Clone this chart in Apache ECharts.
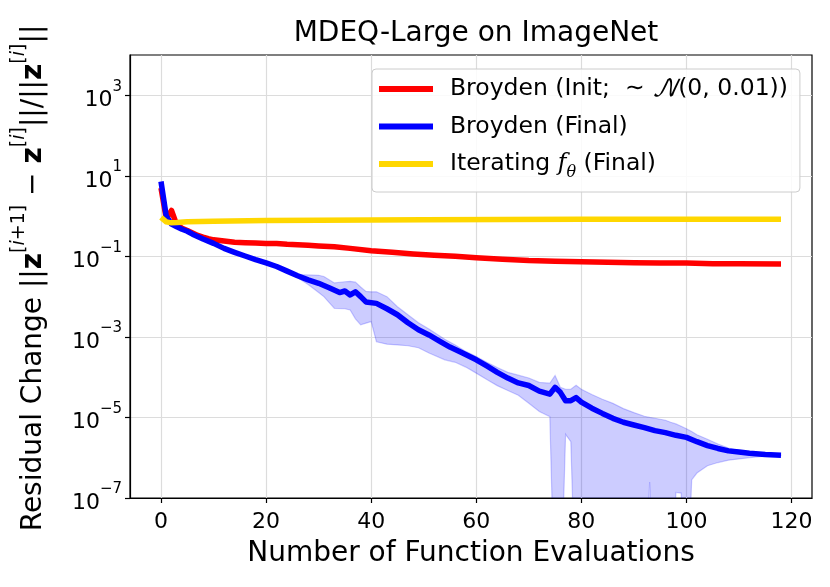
<!DOCTYPE html>
<html>
<head>
<meta charset="utf-8">
<script src="https://cdn.jsdelivr.net/npm/echarts@6/dist/echarts.min.js"></script>
<style>
html,body{margin:0;padding:0;background:#fff;}
#chart{width:830px;height:587px;}
</style>
</head>
<body>
<div id="chart"></div>
<script>
// ---- data ----
const xTicks = [0, 20, 40, 60, 80, 100, 120];
const yTicks = [1e-7, 1e-5, 1e-3, 1e-1, 1e1, 1e3];

const seriesNames = ['Broyden (Init; ~N(0, 0.01))', 'Broyden (Final)', 'Iterating f_θ (Final)'];

const redX = [0,1,2,3,4,5,6,7,8,9,10,12,14,16,18,20,22,24,26,28,30,33,36,40,44,48,52,56,60,65,70,75,80,85,90,95,100,105,110,118];
const redY = [5.0,0.87,1.38,0.60,0.50,0.44,0.38,0.33,0.30,0.275,0.257,0.24,0.224,0.219,0.214,0.209,0.209,0.20,0.195,0.19,0.182,0.174,0.158,0.138,0.126,0.115,0.107,0.10,0.093,0.085,0.079,0.076,0.074,0.071,0.069,0.068,0.068,0.066,0.066,0.065];

const blueX = [0,1,2,3,4,5,6,8,10,12,14,16,18,20,22,24,26,28,30,32,34,35,36,37,38,39,41,43,45,47,49,51,53,55,57,60,62,64,66,68,70,72,74,75,76,77,78,79,80,82,84,86,88,90,92,94,96,98,100,102,104,106,108,110,112,115,118];
const blueY = [7.24,1.0,0.63,0.54,0.47,0.42,0.355,0.27,0.21,0.158,0.126,0.102,0.083,0.069,0.056,0.043,0.033,0.026,0.0214,0.0166,0.0126,0.0138,0.011,0.0132,0.010,0.0074,0.0068,0.0050,0.00355,0.00224,0.00151,0.00112,7.9e-4,5.6e-4,4.2e-4,2.7e-4,1.9e-4,1.32e-4,9.5e-5,7.2e-5,6.2e-5,4.5e-5,3.8e-5,5.6e-5,4.2e-5,2.6e-5,2.6e-5,3.1e-5,2.4e-5,1.7e-5,1.26e-5,9.5e-6,7.6e-6,6.5e-6,5.6e-6,4.7e-6,4.2e-6,3.6e-6,3.2e-6,2.5e-6,2.0e-6,1.7e-6,1.48e-6,1.38e-6,1.29e-6,1.2e-6,1.15e-6];

const yellowX = [0,1,2,3,5,10,20,30,50,80,118];
const yellowY = [0.93,0.72,0.68,0.69,0.72,0.74,0.78,0.79,0.81,0.83,0.83];

// spread band of the final Broyden runs (1e-10 = below the visible range)
const bandX  = [22,24,26,28,30,31,33,35,36,37,38,39,40,41,43,45,47,49,51,54,56,58,60,62,64,66,68,70,72,74,75,76,77,78,79,80,82,84,86,88,90,92,93,94,96,97,98,99,100,101,102,104,106,108,110,112,114,116,118];
const bandLo = [5.37e-2,3.98e-2,2.95e-2,2.0e-2,1.26e-2,1.0e-2,5.13e-3,5.01e-3,4.68e-3,2.82e-3,2.0e-3,2.19e-3,2.40e-3,7.59e-4,6.61e-4,6.31e-4,6.03e-4,5.37e-4,3.98e-4,2.69e-4,2.34e-4,1.78e-4,1.26e-4,8.71e-5,6.17e-5,4.68e-5,3.55e-5,2.24e-5,1.41e-5,1.05e-5,1e-10,1e-10,3.80e-6,2.51e-6,1e-10,1e-10,1e-10,1e-10,1e-10,1e-10,1e-10,1e-10,2.51e-7,1e-10,1e-10,1e-10,1.38e-7,1.32e-7,1e-10,2.82e-7,4.17e-7,6.31e-7,7.59e-7,8.71e-7,9.33e-7,1.0e-6,1.07e-6,1.12e-6,1.15e-6];
const bandHi = [5.89e-2,4.68e-2,3.55e-2,3.47e-2,3.39e-2,3.16e-2,2.19e-2,2.34e-2,2.40e-2,2.29e-2,1.74e-2,1.35e-2,1.32e-2,1.32e-2,1.0e-2,5.62e-3,3.55e-3,2.24e-3,1.58e-3,8.71e-4,6.31e-4,4.37e-4,3.24e-4,2.34e-4,1.74e-4,1.32e-4,1.12e-4,9.55e-5,7.41e-5,7.08e-5,1.10e-4,5.62e-5,5.01e-5,5.01e-5,6.31e-5,5.01e-5,3.72e-5,2.82e-5,2.24e-5,1.66e-5,1.32e-5,1.07e-5,1.0e-5,9.55e-6,8.51e-6,7.59e-6,6.92e-6,6.03e-6,5.25e-6,4.47e-6,3.72e-6,2.88e-6,2.19e-6,1.74e-6,1.51e-6,1.38e-6,1.29e-6,1.20e-6,1.17e-6];

// ---- chart ----
const FONT = '"DejaVu Sans", "Noto Sans", sans-serif';
const pairs = (xs, ys) => xs.map((x, i) => [x, ys[i]]);

const chart = echarts.init(document.getElementById('chart'), null, {renderer: 'canvas'});

function fmtExp(v) {
  const e = Math.round(Math.log10(v));
  if (e > 3) return '';
  return '{b|10}{s|' + (e < 0 ? '\u2212' + (-e) : e) + '}';
}

const LFS = 23.5;
const LLH = 26;
const legendRich = {
  t: {fontSize: LFS, lineHeight: LLH, fontFamily: FONT, color: '#000', padding: [0, 0, 0, 12]},
  u: {fontSize: LFS, lineHeight: LLH, fontFamily: FONT, color: '#000'},
  n: {fontSize: LFS, lineHeight: LLH, fontFamily: '"DejaVu Math TeX Gyre", "DejaVu Serif", serif', fontStyle: 'italic', color: '#000'},
  f: {fontSize: LFS, lineHeight: LLH, fontFamily: '"DejaVu Serif", serif', fontStyle: 'italic', color: '#000'},
  sub: {fontSize: 16, fontFamily: '"DejaVu Serif", serif', fontStyle: 'italic', color: '#000', verticalAlign: 'bottom', lineHeight: LLH, padding: [0, 0, -4, 0]}
};

const option = {
  animation: false,
  backgroundColor: '#fff',
  title: {
    text: 'MDEQ-Large on ImageNet',
    left: 471, top: 15, textAlign: 'center',
    textStyle: {fontFamily: FONT, fontSize: 28, fontWeight: 'normal', color: '#000'}
  },
  grid: {left: 130, right: 18, top: 55, bottom: 89, show: true, borderColor: '#000', borderWidth: 1.2, backgroundColor: 'transparent'},
  legend: {
    orient: 'vertical',
    left: 372, top: 69,
    padding: [7, 12, 11, 7],
    itemGap: 11.5,
    itemWidth: 54, itemHeight: 6,
    icon: 'rect',
    backgroundColor: 'rgba(255,255,255,0.85)',
    borderColor: '#cccccc', borderWidth: 1, borderRadius: 4,
    data: seriesNames,
    formatter: function (name) {
      if (name === seriesNames[0]) return '{t|Broyden (Init;  \u223C }{n|\uD835\uDCA9}{u|(0, 0.01))}';
      if (name === seriesNames[2]) return '{t|Iterating }{f|f}{sub|\u03B8}{u| (Final)}';
      return '{t|' + name + '}';
    },
    textStyle: {fontFamily: FONT, fontSize: LFS, lineHeight: LLH, color: '#000', rich: legendRich}
  },
  xAxis: {
    type: 'value', min: -5.9, max: 123.9,
    name: 'Number of Function Evaluations', nameLocation: 'middle', nameGap: 42,
    nameTextStyle: {fontFamily: FONT, fontSize: 28, color: '#000'},
    axisLine: {show: true, onZero: false, lineStyle: {color: '#000', width: 1.2}},
    axisTick: {show: true, inside: false, length: 5, customValues: xTicks, lineStyle: {color: '#000', width: 1.2}},
    axisLabel: {customValues: xTicks, margin: 13, fontFamily: FONT, fontSize: 22, color: '#000',
      formatter: v => String(Math.round(v))},
    splitLine: {show: true, lineStyle: {color: '#dcdcdc', width: 1.2}}
  },
  yAxis: {
    type: 'log', logBase: 10, min: 1e-7, max: 1e4, interval: 2,
    axisLine: {show: true, onZero: false, lineStyle: {color: '#000', width: 1.2}},
    axisTick: {show: true, inside: false, length: 5, customValues: yTicks, lineStyle: {color: '#000', width: 1.2}},
    axisLabel: {margin: 8, color: '#000', formatter: fmtExp,
      rich: {
        b: {fontFamily: FONT, fontSize: 22, color: '#000', lineHeight: 32, verticalAlign: 'bottom'},
        s: {fontFamily: FONT, fontSize: 15, color: '#000', lineHeight: 32, verticalAlign: 'top'}
      }},
    minorTick: {show: false},
    splitLine: {show: true, lineStyle: {color: '#dcdcdc', width: 1.2}}
  },
  graphic: [{
    type: 'text',
    x: 29, y: 278,
    rotation: Math.PI / 2,
    style: {
      text: '{r|Residual Change ||}{z|z}{s|[}{i|i}{s|+1]}{r| \u2212 }{z|z}{s|[}{i|i}{s|]}{r|||/||}{z|z}{s|[}{i|i}{s|]}{r|||}',
      align: 'center', verticalAlign: 'middle',
      fill: '#000',
      rich: {
        r: {fontFamily: FONT, fontSize: 28, fill: '#000', lineHeight: 38, verticalAlign: 'bottom'},
        z: {fontFamily: FONT, fontSize: 28, fontWeight: 'bold', fill: '#000', lineHeight: 38, verticalAlign: 'bottom'},
        s: {fontFamily: FONT, fontSize: 19, fill: '#000', lineHeight: 38, verticalAlign: 'top'},
        i: {fontFamily: FONT, fontSize: 19, fontStyle: 'italic', fill: '#000', lineHeight: 38, verticalAlign: 'top'}
      }
    }
  }],
  series: [
    {
      name: 'band', type: 'custom', silent: true, z: 1,
      data: bandX.map((x, i) => [x, bandLo[i], bandHi[i]]),
      encode: {x: 0, y: [1, 2]},
      renderItem: function (params, api) {
        if (params.dataIndex !== 0) return null;
        const pts = [];
        for (let i = 0; i < bandX.length; i++) pts.push(api.coord([bandX[i], bandHi[i]]));
        for (let i = bandX.length - 1; i >= 0; i--) pts.push(api.coord([bandX[i], bandLo[i]]));
        const cs = params.coordSys;
        return {
          type: 'polygon',
          shape: {points: pts},
          style: {fill: 'rgba(0,0,255,0.2)', stroke: 'rgba(0,0,255,0.2)', lineWidth: 1.2},
          clipPath: {type: 'rect', shape: {x: cs.x, y: cs.y, width: cs.width, height: cs.height}}
        };
      }
    },
    {
      name: seriesNames[0], type: 'line', data: pairs(redX, redY),
      showSymbol: false, symbol: 'none', z: 3,
      lineStyle: {color: '#ff0000', width: 5.5, join: 'round'}, itemStyle: {color: '#ff0000'}
    },
    {
      name: seriesNames[1], type: 'line', data: pairs(blueX, blueY),
      showSymbol: false, symbol: 'none', z: 4,
      lineStyle: {color: '#0000ff', width: 5.5, join: 'round'}, itemStyle: {color: '#0000ff'}
    },
    {
      name: seriesNames[2], type: 'line', data: pairs(yellowX, yellowY),
      showSymbol: false, symbol: 'none', z: 5,
      lineStyle: {color: '#ffd700', width: 5.5, join: 'round'}, itemStyle: {color: '#ffd700'}
    }
  ]
};
chart.setOption(option);
</script>
</body>
</html>
